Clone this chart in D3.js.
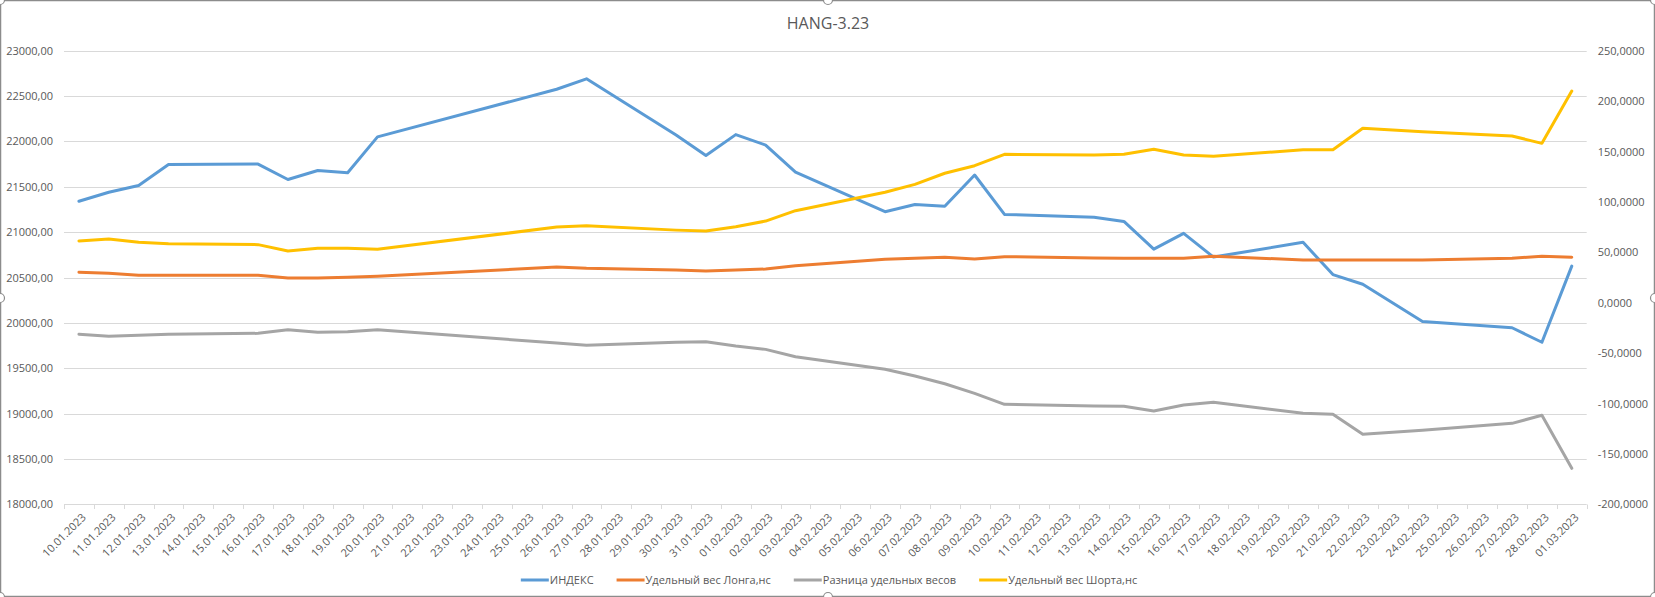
<!DOCTYPE html>
<html>
<head>
<meta charset="utf-8">
<script src="https://cdn.jsdelivr.net/npm/d3@7"></script>
<style>
  html, body { margin: 0; padding: 0; background: #fff; }
  svg { display: block; }
  text { font-family: "Open Sans", "Noto Sans", sans-serif; fill: #595959; }
</style>
</head>
<body>
<svg id="chart" width="1655" height="597"></svg>
<script>
const title = "HANG-3.23";

const dates = [
  "10.01.2023","11.01.2023","12.01.2023","13.01.2023","14.01.2023","15.01.2023","16.01.2023",
  "17.01.2023","18.01.2023","19.01.2023","20.01.2023","21.01.2023","22.01.2023","23.01.2023",
  "24.01.2023","25.01.2023","26.01.2023","27.01.2023","28.01.2023","29.01.2023","30.01.2023",
  "31.01.2023","01.02.2023","02.02.2023","03.02.2023","04.02.2023","05.02.2023","06.02.2023",
  "07.02.2023","08.02.2023","09.02.2023","10.02.2023","11.02.2023","12.02.2023","13.02.2023",
  "14.02.2023","15.02.2023","16.02.2023","17.02.2023","18.02.2023","19.02.2023","20.02.2023",
  "21.02.2023","22.02.2023","23.02.2023","24.02.2023","25.02.2023","26.02.2023","27.02.2023",
  "28.02.2023","01.03.2023"
];

// ИНДЕКС (left axis)
const indexValues = [
  21340, 21440, 21515, 21745, null, null, 21750,
  21580, 21680, 21655, 22050, null, null, null,
  null, null, 22575, 22690, null, null, 22070,
  21845, 22075, 21960, 21662, null, null, 21225,
  21305, 21285, 21630, 21195, null, null, 21165,
  21118, 20813, 20987, 20725, null, null, 20888,
  20532, 20426, null, 20015, null, null, 19946,
  19786, 20625
];

// Удельный вес Лонга,нс (right axis)
const longValues = [
  30.2, 29.2, 27.2, 27.2, null, null, 27.2,
  24.5, 24.5, 25.2, 26.2, null, null, null,
  null, null, 35.4, 34.1, null, null, 32.4,
  31.4, 32.4, 33.4, 36.7, null, null, 43.1,
  44.1, 45.1, 43.4, 45.7, null, null, 44.4,
  44.1, 44.1, 44.1, 46.0, null, null, 42.4,
  42.4, 42.4, null, 42.4, null, null, 44.1,
  46.0, 45.1
];

// Разница удельных весов (right axis)
const diffValues = [
  -31.3, -33.3, -32.3, -31.3, null, null, -30.4,
  -26.8, -29.4, -28.8, -26.8, null, null, null,
  null, null, -40.0, -42.3, null, null, -39.3,
  -38.7, -43.0, -46.3, -53.6, null, null, -66.1,
  -72.7, -80.4, -89.9, -100.8, null, null, -102.5,
  -102.8, -107.4, -101.5, -98.8, null, null, -109.7,
  -110.7, -130.6, null, -126.6, null, null, -119.7,
  -111.7, -164.3
];

// Удельный вес Шорта,нс (right axis)
const shortValues = [
  61.2, 63.2, 59.9, 58.5, null, null, 57.6,
  51.3, 54.0, 54.0, 53.0, null, null, null,
  null, null, 75.0, 76.4, null, null, 72.0,
  71.1, 75.4, 81.0, 91.3, null, null, 109.5,
  117.4, 128.4, 135.9, 147.2, null, null, 146.5,
  147.2, 152.2, 146.5, 145.2, null, null, 151.8,
  151.8, 173.0, null, 169.6, null, null, 165.4,
  158.1, 210.0
];

const leftTicks = [18000, 18500, 19000, 19500, 20000, 20500, 21000, 21500, 22000, 22500, 23000];
const rightTicks = [-200, -150, -100, -50, 0, 50, 100, 150, 200, 250];

const seriesNames = ["ИНДЕКС", "Удельный вес Лонга,нс", "Разница удельных весов", "Удельный вес Шорта,нс"];
const seriesColors = ["#5B9BD5", "#ED7D31", "#A5A5A5", "#FFC000"];
const seriesData = [indexValues, longValues, diffValues, shortValues];
const seriesAxis = ["left", "right", "right", "right"];

const W = 1655, H = 597;
const plotLeft = 64, plotRight = 1586.7, plotTop = 50.7, plotBottom = 504.3;

const svg = d3.select("#chart");

const x = d3.scaleBand().domain(dates).range([plotLeft, plotRight]).paddingInner(0).paddingOuter(0);
const yLeft = d3.scaleLinear().domain([18000, 23000]).range([plotBottom, plotTop]);
const yRight = d3.scaleLinear().domain([-200, 250]).range([plotBottom, plotTop]);

// chart frame
svg.append("rect").attr("x", 0.5).attr("y", 0.5).attr("width", W - 1).attr("height", H - 1)
  .attr("fill", "#fff").attr("stroke", "#8c8c8c").attr("stroke-width", 1.5);

// title
svg.append("text").attr("x", 828).attr("y", 29).attr("text-anchor", "middle")
  .style("font-size", "16px").text(title);

// gridlines (left axis)
svg.append("g").selectAll("line").data(leftTicks).join("line")
  .attr("x1", plotLeft).attr("x2", plotRight)
  .attr("y1", d => Math.round(yLeft(d)) + 0.5).attr("y2", d => Math.round(yLeft(d)) + 0.5)
  .attr("stroke", "#d9d9d9").attr("stroke-width", 1);

// left axis labels
const fmtL = d => d.toFixed(2).replace(".", ",");
const fmtR = d => d.toFixed(4).replace(".", ",");
const leftAxis = d3.axisLeft(yLeft).tickValues(leftTicks).tickFormat(fmtL).tickSize(0).tickPadding(11);
const gL = svg.append("g").attr("transform", `translate(${plotLeft},0)`).call(leftAxis);
gL.select(".domain").remove();
gL.selectAll("text").style("font-size", "11px").attr("fill", "#595959").style("font-family", null);

const rightAxis = d3.axisRight(yRight).tickValues(rightTicks).tickFormat(fmtR).tickSize(0).tickPadding(11);
const gR = svg.append("g").attr("transform", `translate(${plotRight},0)`).call(rightAxis);
gR.select(".domain").remove();
gR.selectAll("text").style("font-size", "11px").attr("fill", "#595959").style("font-family", null);

// x axis tick marks at band boundaries
const boundaries = dates.map(d => x(d)).concat([x(dates[dates.length - 1]) + x.bandwidth()]);
svg.append("g").selectAll("line").data(boundaries).join("line")
  .attr("x1", d => Math.round(d) + 0.5).attr("x2", d => Math.round(d) + 0.5)
  .attr("y1", Math.round(plotBottom) + 0.5).attr("y2", Math.round(plotBottom) + 5)
  .attr("stroke", "#d9d9d9").attr("stroke-width", 1);

// x labels
svg.append("g").selectAll("text").data(dates).join("text")
  .attr("transform", d => `translate(${x(d) + x.bandwidth() / 2 + 5},${plotBottom + 11}) rotate(-45)`)
  .attr("text-anchor", "end").attr("dy", "0.35em")
  .style("font-size", "11px").text(d => d);

// lines (Excel connects across empty points)
seriesData.forEach((vals, si) => {
  const y = seriesAxis[si] === "left" ? yLeft : yRight;
  const pts = dates.map((d, i) => [d, vals[i]]).filter(p => p[1] !== null);
  const line = d3.line().x(p => x(p[0]) + x.bandwidth() / 2).y(p => y(p[1]));
  svg.append("path").datum(pts).attr("d", line)
    .attr("fill", "none").attr("stroke", seriesColors[si]).attr("stroke-width", 3)
    .attr("stroke-linejoin", "round").attr("stroke-linecap", "round");
});

// legend
const legend = svg.append("g");
const items = legend.selectAll("g").data(seriesNames).join("g");
items.append("line").attr("x1", 0).attr("x2", 28).attr("y1", 0).attr("y2", 0)
  .attr("stroke", (d, i) => seriesColors[i]).attr("stroke-width", 3);
items.append("text").attr("x", 29).attr("y", 0).attr("dy", "0.35em")
  .style("font-size", "11px").text(d => d);
let cx = 0;
const widths = [];
items.each(function () { widths.push(d3.select(this).select("text").node().getComputedTextLength() + 29); });
const gap = 23;
const total = widths.reduce((a, b) => a + b, 0) + gap * (widths.length - 1);
let start = 829 - total / 2;
items.attr("transform", (d, i) => {
  const t = `translate(${start},580)`;
  start += widths[i] + gap;
  return t;
});

// selection handles
const handles = [[0, 0], [828, 0], [W, 0], [0, 298], [W, 298], [0, H], [828, H], [W, H]];
svg.append("g").selectAll("circle").data(handles).join("circle")
  .attr("cx", d => d[0]).attr("cy", d => d[1]).attr("r", 4.5)
  .attr("fill", "#fff").attr("stroke", "#8c8c8c").attr("stroke-width", 1.2);
</script>
</body>
</html>
